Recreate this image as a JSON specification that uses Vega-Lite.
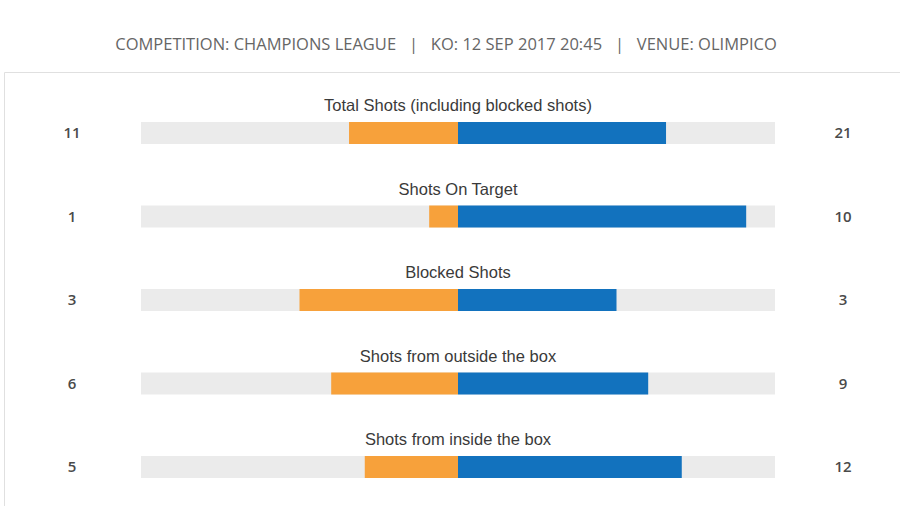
{
  "$schema": "https://vega.github.io/schema/vega-lite/v6.json",
  "width": 896,
  "height": 434,
  "autosize": "none",
  "padding": {"left": 4, "top": 72, "right": 0, "bottom": 0},
  "background": "#ffffff",
  "config": {"view": {"stroke": "#e0e0e0", "strokeWidth": 1}},
  "title": {
    "text": "COMPETITION: CHAMPIONS LEAGUE \u00a0 | \u00a0 KO: 12 SEP 2017 20:45 \u00a0 | \u00a0 VENUE: OLIMPICO",
    "font": "Open Sans",
    "fontSize": 16.5,
    "fontWeight": "normal",
    "color": "#666666",
    "anchor": "middle",
    "baseline": "alphabetic",
    "offset": 21,
    "dy": 15,
    "dx": -6
  },
  "data": {
    "values": [
      {"stat": "Total Shots (including blocked shots)", "home": 11, "away": 21},
      {"stat": "Shots On Target", "home": 1, "away": 10},
      {"stat": "Blocked Shots", "home": 3, "away": 3},
      {"stat": "Shots from outside the box", "home": 6, "away": 9},
      {"stat": "Shots from inside the box", "home": 5, "away": 12}
    ]
  },
  "transform": [
    {"calculate": "-datum.home / (datum.home + datum.away)", "as": "homeShare"},
    {"calculate": "datum.away / (datum.home + datum.away)", "as": "awayShare"},
    {"calculate": "-1", "as": "lo"},
    {"calculate": "1", "as": "hi"}
  ],
  "encoding": {
    "y": {
      "field": "stat",
      "type": "nominal",
      "sort": null,
      "scale": {"type": "band", "range": [19.25, 436.75], "paddingInner": 0, "paddingOuter": 0},
      "axis": null
    }
  },
  "layer": [
    {
      "mark": {"type": "bar", "color": "#ebebeb", "size": 22},
      "encoding": {
        "x": {"field": "lo", "type": "quantitative", "scale": {"domain": [-1, 1], "range": [137, 771], "nice": false, "zero": false}, "axis": null},
        "x2": {"field": "hi"}
      }
    },
    {
      "mark": {"type": "bar", "color": "#f7a13b", "size": 22},
      "encoding": {
        "x": {"field": "homeShare", "type": "quantitative"}
      }
    },
    {
      "mark": {"type": "bar", "color": "#1272be", "size": 22},
      "encoding": {
        "x": {"field": "awayShare", "type": "quantitative"}
      }
    },
    {
      "mark": {"type": "text", "font": "Liberation Sans", "fontSize": 16.5, "color": "#3a3a3a", "baseline": "middle", "dy": -27},
      "encoding": {
        "x": {"datum": 0, "type": "quantitative"},
        "text": {"field": "stat"}
      }
    },
    {
      "mark": {"type": "text", "font": "Open Sans", "fontSize": 15, "fontWeight": 600, "color": "#4a4a4a", "baseline": "middle"},
      "encoding": {
        "x": {"datum": -1.2177, "type": "quantitative"},
        "text": {"field": "home"}
      }
    },
    {
      "mark": {"type": "text", "font": "Open Sans", "fontSize": 15, "fontWeight": 600, "color": "#4a4a4a", "baseline": "middle"},
      "encoding": {
        "x": {"datum": 1.2145, "type": "quantitative"},
        "text": {"field": "away"}
      }
    }
  ]
}
